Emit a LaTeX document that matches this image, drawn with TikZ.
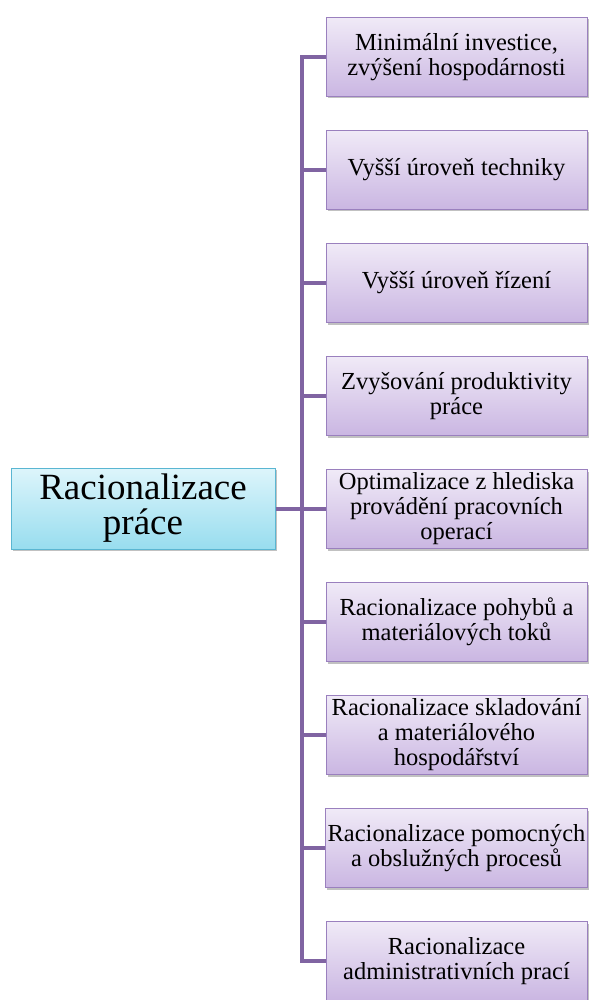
\documentclass[tikz,border=0pt]{standalone}
\usepackage{fontspec}
\setmainfont{Liberation Serif}
\usetikzlibrary{shadows}
\definecolor{conn}{HTML}{8064A2}
\definecolor{leafborder}{HTML}{9A80BE}
\definecolor{leaftop}{HTML}{F0EAF7}
\definecolor{leafbot}{HTML}{CAB6E2}
\definecolor{rootborder}{HTML}{5AB6D2}
\definecolor{roottop}{HTML}{DDF5FB}
\definecolor{rootbot}{HTML}{98DDEF}
\tikzset{
  leaf/.style={draw=leafborder, line width=1pt, top color=leaftop, bottom color=leafbot,
    minimum width=261pt, minimum height=79pt, align=center, inner sep=2pt,
    font=\fontsize{24.5}{25}\selectfont,
    drop shadow={shadow xshift=1.5pt, shadow yshift=-2pt, opacity=0.35, fill=black!70}},
  rootbox/.style={draw=rootborder, line width=1pt, top color=roottop, bottom color=rootbot,
    minimum width=264pt, minimum height=81pt, align=center, inner sep=2pt,
    font=\fontsize{37}{35}\selectfont,
    drop shadow={shadow xshift=1.5pt, shadow yshift=-2pt, opacity=0.35, fill=black!70}},
  connector/.style={draw=conn, line width=4pt}
}
\begin{document}
\begin{tikzpicture}[x=1pt,y=-1pt]
\useasboundingbox (0,0) rectangle (589,1000);
\clip (0,0) rectangle (589,1000);
\node[rootbox] (root) at (143,508.5) {Racionalizace\\práce};
\node[leaf] (l1) at (456.5,57) {Minimální investice,\\zvýšení hospodárnosti};
\node[leaf] (l2) at (456.5,170) {Vyšší úroveň techniky};
\node[leaf] (l3) at (456.5,283) {Vyšší úroveň řízení};
\node[leaf] (l4) at (456.5,396) {Zvyšování produktivity\\práce};
\node[leaf] (l5) at (456.5,509) {Optimalizace z hlediska\\provádění pracovních\\operací};
\node[leaf] (l6) at (456.5,622) {Racionalizace pohybů a\\materiálových toků};
\node[leaf] (l7) at (456.5,735) {Racionalizace skladování\\a materiálového\\hospodářství};
\node[leaf] (l8) at (456.5,848) {Racionalizace pomocných\\a obslužných procesů};
\node[leaf] (l9) at (456.5,961) {Racionalizace\\administrativních prací};
\coordinate (trunk) at (302,508.5);
\draw[connector] (root.east) -- (trunk);
\foreach \i in {1,...,9} {
  \draw[connector] (trunk) |- (l\i.west);
}
\end{tikzpicture}
\end{document}
